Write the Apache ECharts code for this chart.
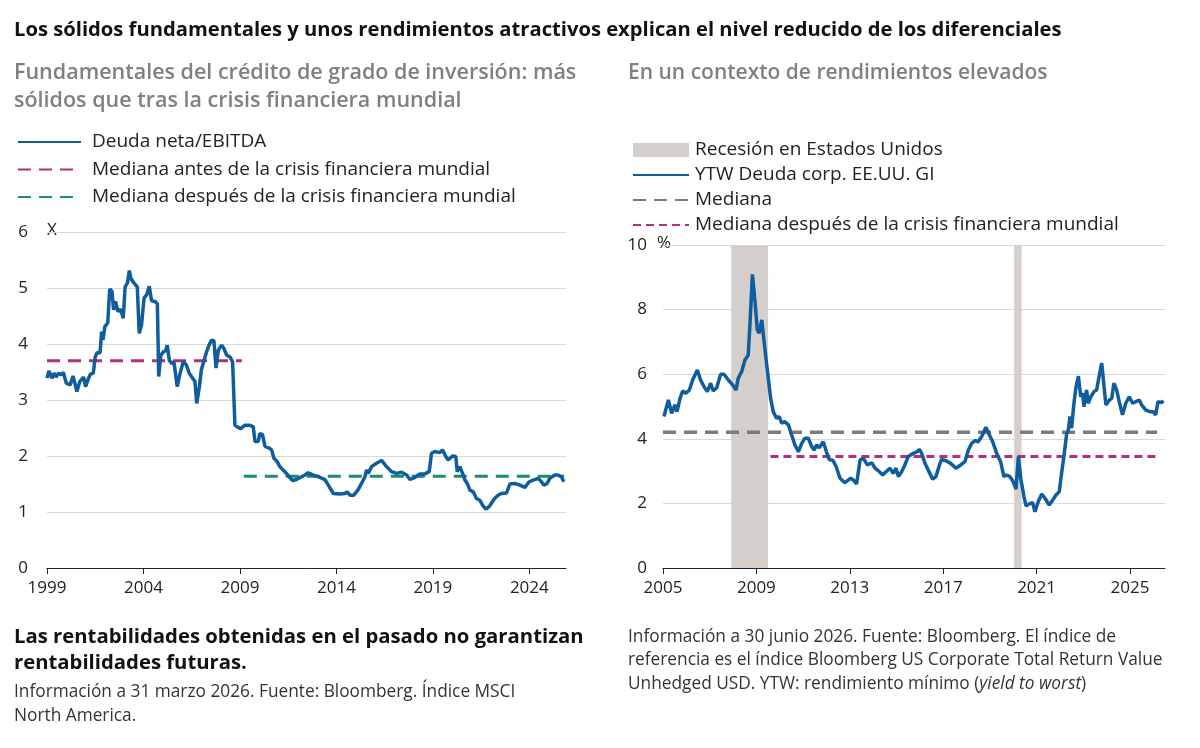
<!DOCTYPE html>
<html>
<head>
<meta charset="utf-8">
<script src="https://cdn.jsdelivr.net/npm/echarts@6/dist/echarts.min.js"></script>
<style>
  html, body { margin: 0; padding: 0; background: #fff; }
  #main { width: 1200px; height: 748px; }
</style>
</head>
<body>
<div id="main"></div>
<script>
// Deuda neta/EBITDA (MSCI North America), x = año decimal
var debtYears = [1999.0, 1999.1, 1999.25, 1999.37, 1999.47, 1999.6, 1999.72, 1999.85, 2000.0, 2000.2,
  2000.35, 2000.45, 2000.55, 2000.7, 2000.8, 2000.9, 2001.0, 2001.12, 2001.25, 2001.4,
  2001.5, 2001.6, 2001.75, 2001.83, 2001.9, 2002.0, 2002.15, 2002.25, 2002.37, 2002.45,
  2002.55, 2002.68, 2002.82, 2002.95, 2003.05, 2003.17, 2003.27, 2003.35, 2003.5, 2003.68,
  2003.78, 2003.9, 2004.03, 2004.17, 2004.3, 2004.42, 2004.6, 2004.72, 2004.79, 2004.9,
  2005.03, 2005.15, 2005.23, 2005.34, 2005.46, 2005.58, 2005.75, 2005.9, 2006.06, 2006.22,
  2006.37, 2006.55, 2006.67, 2006.76, 2006.9, 2007.0, 2007.1, 2007.27, 2007.4, 2007.53,
  2007.65, 2007.76, 2007.88, 2008.05, 2008.17, 2008.31, 2008.48, 2008.62, 2008.74, 2008.86,
  2009.04, 2009.26, 2009.52, 2009.69, 2009.78, 2009.95, 2010.03, 2010.17, 2010.3, 2010.52,
  2010.64, 2010.76, 2010.93, 2011.07, 2011.21, 2011.38, 2011.55, 2011.73, 2011.93, 2012.2,
  2012.37, 2012.54, 2012.8, 2013.06, 2013.4, 2013.58, 2013.84, 2014.18, 2014.44, 2014.56,
  2014.7, 2014.9, 2015.13, 2015.3, 2015.48, 2015.56, 2015.65, 2015.82, 2016.08, 2016.34,
  2016.6, 2016.86, 2017.12, 2017.38, 2017.64, 2017.81, 2018.07, 2018.33, 2018.58, 2018.81,
  2018.93, 2019.1, 2019.36, 2019.5, 2019.67, 2019.79, 2020.02, 2020.19, 2020.26, 2020.4,
  2020.54, 2020.66, 2020.78, 2020.92, 2021.09, 2021.26, 2021.43, 2021.6, 2021.75, 2021.95,
  2022.2, 2022.38, 2022.55, 2022.82, 2022.99, 2023.25, 2023.51, 2023.77, 2023.99, 2024.2,
  2024.46, 2024.63, 2024.75, 2024.92, 2025.06, 2025.32, 2025.49, 2025.66, 2025.79];
var debtValues = [3.39, 3.52, 3.39, 3.48, 3.41, 3.48, 3.45, 3.49, 3.30, 3.27,
  3.43, 3.42, 3.15, 3.33, 3.30, 3.41, 3.24, 3.36, 3.46, 3.48,
  3.77, 3.85, 3.84, 4.22, 4.07, 4.31, 4.38, 4.98, 4.94, 4.61,
  4.76, 4.58, 4.62, 4.46, 5.02, 5.09, 5.31, 5.17, 5.09, 5.02,
  4.19, 4.34, 4.82, 4.88, 5.03, 4.77, 4.76, 4.72, 3.42, 3.80,
  3.86, 3.88, 3.98, 3.71, 3.65, 3.68, 3.24, 3.48, 3.68, 3.63,
  3.48, 3.39, 3.33, 2.94, 3.24, 3.54, 3.57, 3.86, 3.98, 4.07,
  4.06, 3.57, 3.89, 3.98, 3.92, 3.80, 3.77, 3.68, 2.55, 2.52,
  2.49, 2.55, 2.55, 2.52, 2.26, 2.26, 2.40, 2.38, 2.17, 2.14,
  2.11, 1.96, 1.90, 1.81, 1.76, 1.70, 1.63, 1.56, 1.58, 1.63,
  1.66, 1.70, 1.66, 1.63, 1.58, 1.48, 1.33, 1.32, 1.33, 1.36,
  1.30, 1.30, 1.40, 1.51, 1.63, 1.75, 1.69, 1.81, 1.87, 1.92,
  1.81, 1.72, 1.69, 1.71, 1.66, 1.58, 1.62, 1.68, 1.68, 1.72,
  2.05, 2.08, 2.06, 2.11, 1.99, 1.93, 2.00, 1.99, 1.72, 1.81,
  1.69, 1.57, 1.51, 1.39, 1.36, 1.24, 1.21, 1.11, 1.05, 1.11,
  1.24, 1.30, 1.33, 1.34, 1.50, 1.51, 1.48, 1.44, 1.54, 1.57,
  1.60, 1.54, 1.48, 1.51, 1.60, 1.66, 1.66, 1.63, 1.54];

// medianas del ratio
var preMedian = 3.7, preMedianSpan = [1999, 2009.1];
var postMedian = 1.64, postMedianSpan = [2009.2, 2025.8];

// YTW Deuda corp. EE.UU. GI (%)
var ytwYears = [2005.04, 2005.23, 2005.37, 2005.51, 2005.6, 2005.73, 2005.84, 2005.98, 2006.13, 2006.27,
  2006.47, 2006.61, 2006.76, 2006.9, 2007.04, 2007.15, 2007.3, 2007.47, 2007.61, 2007.8,
  2007.98, 2008.13, 2008.22, 2008.37, 2008.51, 2008.65, 2008.73, 2008.83, 2008.94, 2009.04,
  2009.12, 2009.23, 2009.3, 2009.41, 2009.51, 2009.61, 2009.72, 2009.87, 2009.98, 2010.08,
  2010.22, 2010.37, 2010.51, 2010.65, 2010.8, 2010.94, 2011.08, 2011.22, 2011.37, 2011.47,
  2011.58, 2011.69, 2011.86, 2012.0, 2012.12, 2012.27, 2012.41, 2012.58, 2012.79, 2013.04,
  2013.16, 2013.29, 2013.44, 2013.58, 2013.75, 2013.94, 2014.08, 2014.27, 2014.41, 2014.55,
  2014.72, 2014.86, 2014.98, 2015.08, 2015.22, 2015.36, 2015.5, 2015.72, 2015.89, 2015.98,
  2016.08, 2016.22, 2016.36, 2016.55, 2016.69, 2016.84, 2016.93, 2017.12, 2017.32, 2017.55,
  2017.75, 2017.93, 2018.08, 2018.22, 2018.36, 2018.5, 2018.65, 2018.83, 2018.98, 2019.12,
  2019.29, 2019.46, 2019.6, 2019.72, 2019.86, 2020.0, 2020.12, 2020.22, 2020.32, 2020.46,
  2020.55, 2020.72, 2020.83, 2020.93, 2021.07, 2021.22, 2021.36, 2021.54, 2021.69, 2021.83,
  2021.97, 2022.07, 2022.17, 2022.29, 2022.36, 2022.43, 2022.5, 2022.6, 2022.69, 2022.79,
  2022.89, 2022.97, 2023.03, 2023.14, 2023.21, 2023.32, 2023.46, 2023.57, 2023.69, 2023.79,
  2023.89, 2023.97, 2024.12, 2024.22, 2024.31, 2024.43, 2024.54, 2024.68, 2024.82, 2024.97,
  2025.11, 2025.25, 2025.4, 2025.5, 2025.68, 2025.85, 2025.99, 2026.1, 2026.2, 2026.34, 2026.43];
var ytwValues = [4.69, 5.20, 4.79, 5.05, 4.84, 5.25, 5.48, 5.41, 5.51, 5.82,
  6.13, 5.82, 5.61, 5.46, 5.72, 5.48, 5.58, 6.00, 6.00, 5.82,
  5.67, 5.51, 5.87, 6.08, 6.44, 6.59, 7.63, 9.09, 8.24, 7.37,
  7.27, 7.68, 7.21, 6.49, 5.87, 5.25, 4.84, 4.63, 4.69, 4.48,
  4.53, 4.43, 4.12, 3.81, 3.60, 3.86, 4.02, 4.02, 3.76, 3.65,
  3.81, 3.72, 3.91, 3.60, 3.35, 3.34, 3.15, 2.78, 2.64, 2.78,
  2.72, 2.60, 3.34, 3.40, 3.19, 3.26, 3.09, 2.98, 2.88, 2.98,
  3.09, 2.93, 3.09, 2.83, 2.98, 3.19, 3.45, 3.55, 3.60, 3.67,
  3.55, 3.24, 3.03, 2.75, 2.83, 3.19, 3.36, 3.32, 3.24, 3.09,
  3.19, 3.29, 3.65, 3.86, 3.94, 3.91, 4.07, 4.36, 4.12, 3.91,
  3.55, 3.29, 2.83, 2.88, 2.83, 2.67, 2.44, 3.45, 2.78, 2.21,
  1.92, 2.00, 2.02, 1.74, 2.05, 2.29, 2.16, 1.95, 2.10, 2.26,
  2.36, 2.93, 3.45, 4.17, 4.27, 4.69, 4.33, 5.10, 5.61, 5.94,
  5.30, 5.41, 4.99, 5.51, 5.10, 5.30, 5.46, 5.51, 5.98, 6.34,
  5.61, 5.05, 5.20, 5.25, 5.72, 5.51, 5.15, 4.74, 5.10, 5.30,
  5.10, 5.15, 5.20, 5.05, 4.89, 4.84, 4.84, 4.74, 5.15, 5.12, 5.18];

var ytwMedian = 4.2, ytwMedianSpan = [2005, 2026.16];
var ytwPostMedian = 3.45, ytwPostMedianSpan = [2009.6, 2026.16];
var recessions = [[2007.92, 2009.5], [2020.04, 2020.36]];

var leftTicks = [1999, 2004, 2009, 2014, 2019, 2024];
var rightTicks = [2005, 2009, 2013, 2017, 2021, 2025];

var FONT = 'Open Sans';
var BLUE = '#0f5d9c';
var MAGENTA = '#b0307a';
var TEAL = '#1b8c70';
var GREY = '#7b7b7b';

function zip(xs, ys) {
    return xs.map(function (x, i) { return [x, ys[i]]; });
}
function flat(span, v) {
    return [[span[0], v], [span[1], v]];
}
// legend entry for a line: hide the marker, keep the stroke
function lineItem(name) {
    return { name: name, itemStyle: { opacity: 0 } };
}

var myChart = echarts.init(document.getElementById('main'));

function xAxisOf(gridIndex, min, max, ticks) {
    return {
        type: 'value', gridIndex: gridIndex, min: min, max: max,
        axisLine: { show: true, onZero: false, lineStyle: { color: '#222', width: 1 } },
        axisTick: { show: true, customValues: ticks, length: 6, lineStyle: { color: '#222' } },
        axisLabel: {
            customValues: ticks, margin: 12, color: '#222', fontFamily: FONT, fontSize: 17,
            formatter: function (v) { return String(v); }
        },
        splitLine: { show: false }
    };
}
function yAxisOf(gridIndex, max, interval, margin) {
    return {
        type: 'value', gridIndex: gridIndex, min: 0, max: max, interval: interval,
        axisLine: { show: false }, axisTick: { show: false },
        axisLabel: { margin: margin, color: '#222', fontFamily: FONT, fontSize: 17 },
        splitLine: { lineStyle: { color: '#d9d9d9', width: 1 } }
    };
}

var legendText = { fontFamily: FONT, fontSize: 19, lineHeight: 20, color: '#222' };

var option = {
    backgroundColor: '#fff',
    animation: false,
    textStyle: { fontFamily: FONT },
    title: [{
        text: 'Los sólidos fundamentales y unos rendimientos atractivos explican el nivel reducido de los diferenciales',
        left: 14, top: 18, padding: 0,
        textStyle: { fontFamily: FONT, fontSize: 20.2, fontWeight: 'bold', color: '#111', lineHeight: 24 }
    }, {
        text: 'Fundamentales del crédito de grado de inversión: más\nsólidos que tras la crisis financiera mundial',
        left: 14, top: 59, padding: 0,
        textStyle: { fontFamily: FONT, fontSize: 21.5, fontWeight: 600, color: '#808080', lineHeight: 28 }
    }, {
        text: 'En un contexto de rendimientos elevados',
        left: 628, top: 59, padding: 0,
        textStyle: { fontFamily: FONT, fontSize: 21, fontWeight: 600, color: '#808080', lineHeight: 28 }
    }, {
        text: 'Las rentabilidades obtenidas en el pasado no garantizan\nrentabilidades futuras.',
        left: 14, top: 624, padding: 0,
        textStyle: { fontFamily: FONT, fontSize: 20.3, fontWeight: 'bold', color: '#111', lineHeight: 26 }
    }, {
        text: 'Información a 31 marzo 2026. Fuente: Bloomberg. Índice MSCI\nNorth America.',
        left: 14, top: 680, padding: 0,
        textStyle: { fontFamily: FONT, fontSize: 17.3, fontWeight: 'normal', color: '#333', lineHeight: 24 }
    }, {
        text: 'Información a 30 junio 2026. Fuente: Bloomberg. El índice de\nreferencia es el índice Bloomberg US Corporate Total Return Value\nUnhedged USD. YTW: rendimiento mínimo ({i|yield to worst})',
        left: 628, top: 625, padding: 0,
        textStyle: {
            fontFamily: FONT, fontSize: 17.3, fontWeight: 'normal', color: '#333', lineHeight: 23.5,
            rich: { i: { fontFamily: FONT, fontSize: 17.3, fontStyle: 'italic', color: '#333', lineHeight: 23.5 } }
        }
    }],
    legend: [{
        orient: 'vertical', left: 17, top: 132, padding: 0,
        itemWidth: 63, itemHeight: 14, itemGap: 7.5,
        selectedMode: false,
        textStyle: Object.assign({ padding: [0, 0, 0, 6] }, legendText),
        data: [
            lineItem('Deuda neta/EBITDA'),
            lineItem('Mediana antes de la crisis financiera mundial'),
            lineItem('Mediana después de la crisis financiera mundial')
        ]
    }, {
        orient: 'vertical', left: 632, top: 140, padding: 0,
        itemWidth: 56, itemHeight: 14, itemGap: 5,
        selectedMode: false,
        textStyle: Object.assign({ padding: [0, 0, 0, 1] }, legendText),
        data: [
            { name: 'Recesión en Estados Unidos', icon: 'rect' },
            lineItem('YTW Deuda corp. EE.UU. GI'),
            lineItem('Mediana'),
            lineItem('Mediana después de la crisis financiera mundial ')
        ]
    }],
    graphic: [{
        type: 'text', left: 47, top: 222,
        style: { text: 'X', fontFamily: FONT, fontSize: 17, fill: '#222' }
    }, {
        type: 'text', left: 657, top: 235,
        style: { text: '%', fontFamily: FONT, fontSize: 17, fill: '#222' }
    }],
    grid: [
        { left: 47, right: 634, top: 232, bottom: 180 },
        { left: 663, right: 35, top: 245, bottom: 180 }
    ],
    xAxis: [
        xAxisOf(0, 1999, 2025.9, leftTicks),
        xAxisOf(1, 2005, 2026.5, rightTicks)
    ],
    yAxis: [
        yAxisOf(0, 6, 1, 19),
        yAxisOf(1, 10, 2, 16)
    ],
    series: [{
        name: 'Mediana antes de la crisis financiera mundial',
        type: 'line', xAxisIndex: 0, yAxisIndex: 0, symbol: 'none', silent: true,
        color: MAGENTA,
        lineStyle: { color: MAGENTA, width: 3, type: [13, 8] },
        data: flat(preMedianSpan, preMedian)
    }, {
        name: 'Mediana después de la crisis financiera mundial',
        type: 'line', xAxisIndex: 0, yAxisIndex: 0, symbol: 'none', silent: true,
        color: TEAL,
        lineStyle: { color: TEAL, width: 3, type: [13, 8] },
        data: flat(postMedianSpan, postMedian)
    }, {
        name: 'Deuda neta/EBITDA',
        type: 'line', xAxisIndex: 0, yAxisIndex: 0, symbol: 'none',
        color: BLUE,
        lineStyle: { color: BLUE, width: 3.5 },
        data: zip(debtYears, debtValues)
    }, {
        name: 'Recesión en Estados Unidos',
        type: 'line', xAxisIndex: 1, yAxisIndex: 1, symbol: 'none',
        color: '#d4cfca',
        lineStyle: { width: 0 },
        data: [],
        markArea: {
            silent: true,
            itemStyle: { color: '#d4cfca' },
            data: recessions.map(function (r) { return [{ xAxis: r[0] }, { xAxis: r[1] }]; })
        }
    }, {
        name: 'Mediana',
        type: 'line', xAxisIndex: 1, yAxisIndex: 1, symbol: 'none', silent: true,
        color: GREY,
        lineStyle: { color: GREY, width: 3.5, type: [13, 8] },
        data: flat(ytwMedianSpan, ytwMedian)
    }, {
        name: 'Mediana después de la crisis financiera mundial ',
        type: 'line', xAxisIndex: 1, yAxisIndex: 1, symbol: 'none', silent: true,
        color: MAGENTA,
        lineStyle: { color: MAGENTA, width: 3, type: [8, 5] },
        data: flat(ytwPostMedianSpan, ytwPostMedian)
    }, {
        name: 'YTW Deuda corp. EE.UU. GI',
        type: 'line', xAxisIndex: 1, yAxisIndex: 1, symbol: 'none',
        color: BLUE,
        lineStyle: { color: BLUE, width: 3.5 },
        data: zip(ytwYears, ytwValues)
    }]
};

myChart.setOption(option);
</script>
</body>
</html>
